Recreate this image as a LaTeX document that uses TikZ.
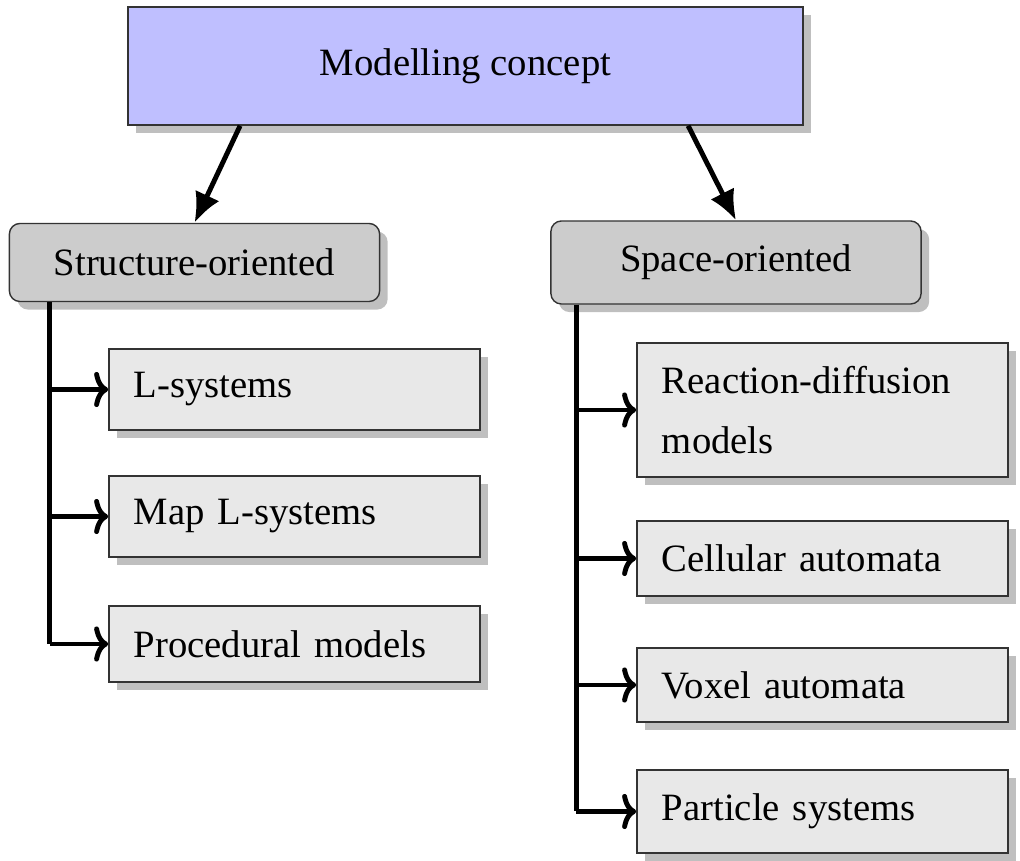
\documentclass[tikz,border=0pt]{standalone}
\usepackage{fontspec}
\setmainfont{Liberation Serif}
\usepackage{tikz}
\usepackage{xcolor}
\usetikzlibrary{shapes,arrows,arrows.meta,positioning,fit,calc,shadows}

\begin{document}
\begin{tikzpicture}[
          x=0.01cm, y=-0.01cm,
          font=\fontsize{11}{17}\selectfont,
          concept/.style={rectangle, draw=black!80, fill=blue!25, drop shadow, minimum width=6.75cm, minimum height=1.18cm},
          group/.style={rectangle, rounded corners=3pt, draw=black!80, fill=black!20, drop shadow, minimum width=3.7cm, minimum height=0.78cm},
          model/.style={rectangle, draw=black!80, fill=black!9, drop shadow, minimum width=3.71cm, minimum height=0.78cm, text width=3.21cm, inner xsep=0.25cm, align=left},
          arrow/.style={-{Latex[length=8.5pt,width=7.5pt]}, line width=1.4pt},
          trunk/.style={line width=1.4pt},
          branch/.style={-{To[length=4pt,width=10pt]}, line width=1.4pt}
        ]
          \useasboundingbox (0,0) rectangle (1020,861);

          \node[concept] (concept) at (465.5,66) {Modelling concept};

          \node[group] (structure) at (194.5,262.5) {Structure-oriented};
          \node[group, minimum height=0.83cm] (space) at (736,262.5) {Space-oriented};

          % structure-oriented models
          \node[model, minimum height=0.81cm] (lsys) at (294.5,389.5) {L-systems};
          \node[model, minimum height=0.81cm] (maplsys) at (294.5,516.5) {Map L-systems};
          \node[model, minimum height=0.76cm] (procedural) at (294.5,644) {Procedural models};

          % space-oriented models
          \node[model, minimum height=1.34cm] (reaction) at (822.5,410) {Reaction-diffusion\\models};
          \node[model, minimum height=0.75cm] (cellular) at (822.5,558.5) {Cellular automata};
          \node[model, minimum height=0.74cm] (voxel) at (822.5,685) {Voxel automata};
          \node[model, minimum height=0.83cm] (particle) at (822.5,811.5) {Particle systems};

          % from the concept down
          \coordinate (leftfoot) at ($(concept.south west)+(113,0)$);
          \coordinate (rightfoot) at ($(concept.south west)+(561,0)$);
          \draw[arrow] (leftfoot) -- (structure.north);
          \draw[arrow] (rightfoot) -- (space.north);

          % trunks
          \coordinate (ltrunk) at ($(structure.south west)+(41,0)$);
          \coordinate (rtrunk) at ($(space.south west)+(26,0)$);
          \draw[trunk] (ltrunk) -- (ltrunk |- procedural.west);
          \draw[trunk] (rtrunk) -- (rtrunk |- particle.west);
          \foreach \m in {lsys, maplsys, procedural}
            \draw[branch] (ltrunk |- \m.west) -- (\m.west);
          \foreach \m in {reaction, cellular, voxel, particle}
            \draw[branch] (rtrunk |- \m.west) -- (\m.west);

        \end{tikzpicture}
\end{document}
